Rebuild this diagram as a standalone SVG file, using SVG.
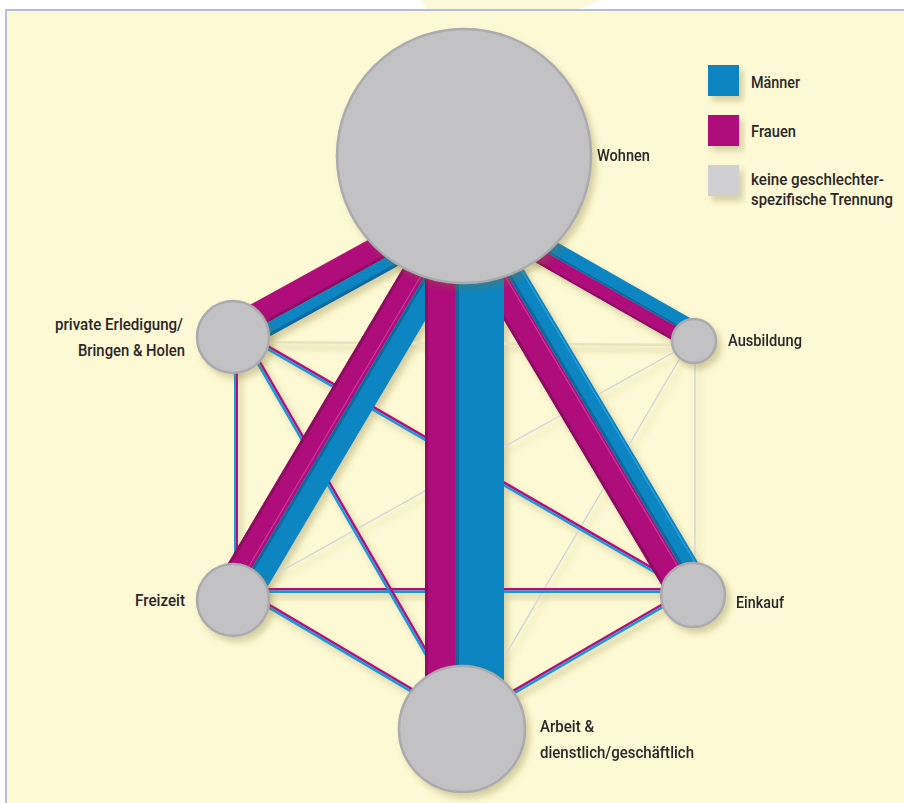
<svg xmlns="http://www.w3.org/2000/svg" width="904" height="803" viewBox="0 0 904 803">
<defs>
<style>
.t{font-family:Roboto,"Liberation Sans",sans-serif;font-size:16.5px;font-weight:500;fill:#2a2627}
.m{fill:#b00b7c}.md{fill:#8c0762}.ml{fill:#c8429e}
.b{fill:#0a85c2}.bd{fill:#09699c}.bl{fill:#3aa6d9}
.tm{fill:#b4107f}.tb{fill:#1699d6}
.g{stroke:#cfd0dc;stroke-width:1.3;fill:none}
.node{fill:#c2c2c4;stroke:#ababaf;stroke-width:2.5}
</style>
<filter id="sh" x="-10%" y="-10%" width="130%" height="130%">
<feDropShadow dx="4" dy="5" stdDeviation="3" flood-color="#7d7030" flood-opacity="0.3"/>
</filter>
</defs>
<rect width="904" height="803" fill="#fff"/>
<polygon points="421,0 600,0 577,10 427,10" fill="#fdf8da"/>
<rect x="6" y="10" width="898" height="793" fill="#fdf9d4"/>
<path d="M6,803 V10 H904" stroke="#b7bedb" stroke-width="2" fill="none"/>

<g id="connectors" filter="url(#sh)">
  <line class="g" x1="233" y1="598" x2="694" y2="341"/>
  <line class="g" x1="462" y1="729" x2="690" y2="341"/>
  <line class="g" x1="695" y1="341" x2="695" y2="595"/>
  <line x1="233" y1="342" x2="694" y2="345" stroke="#e8e2be" stroke-width="2.5"/>

  <rect class="tb" x="234" y="337" width="2" height="263"/>
  <rect class="tm" x="236" y="337" width="2" height="263"/>
  <rect class="tm" x="233" y="588" width="460" height="2.5"/>
  <rect class="tb" x="233" y="590.5" width="460" height="2.5"/>
  <g transform="translate(233,327.5) rotate(29.99)"><rect class="tm" y="-2.5" width="531" height="2.5"/><rect class="tb" y="0" width="531" height="2.5"/></g>
  <g transform="translate(244,337) rotate(60.03)"><rect class="tm" y="-2.5" width="452" height="2.5"/><rect class="tb" y="0" width="452" height="2.5"/></g>
  <g transform="translate(233,585) rotate(30.52)"><rect class="tm" y="-2.5" width="266" height="2.5"/><rect class="tb" y="0" width="266" height="2.5"/></g>
  <g transform="translate(462,722) rotate(-30.11)"><rect class="tm" y="-2.5" width="267" height="2.5"/><rect class="tb" y="0" width="267" height="2.5"/></g>

  <g transform="translate(233,337) rotate(-28.8)">
    <rect class="m" y="-20" width="264" height="24"/>
    <rect class="md" y="1" width="264" height="3"/>
    <rect class="b" y="4" width="264" height="13"/>
    <rect class="bd" y="14" width="264" height="3"/>
  </g>
  <g transform="translate(233,600) rotate(-59.36)">
    <rect class="m" y="-23" width="454" height="23"/>
    <rect class="md" y="-23" width="454" height="3"/>
    <rect class="ml" y="-4" width="454" height="1"/>
    <rect class="b" y="0" width="454" height="23"/>
    <rect class="bd" y="0" width="454" height="3"/>
  </g>
  <g transform="translate(693,595) rotate(-120.74)">
    <rect class="m" y="-22" width="448" height="26"/>
    <rect class="md" y="-22" width="448" height="3"/>
    <rect class="ml" y="1" width="448" height="1"/>
    <rect class="b" y="4" width="448" height="17"/>
    <rect class="bd" y="4" width="448" height="3"/>
    <rect class="bl" y="18" width="448" height="1"/>
  </g>
  <g transform="translate(694,341) rotate(-150.33)">
    <rect class="m" y="-10" width="265" height="14"/>
    <rect class="md" y="-10" width="265" height="2"/>
    <rect class="b" y="4" width="265" height="14"/>
    <rect class="bd" y="4" width="265" height="2"/>
  </g>
  <rect class="m" x="425" y="210" width="30" height="500"/>
  <rect class="md" x="425" y="210" width="3" height="500"/>
  <rect class="b" x="455" y="210" width="49" height="500"/>
  <rect class="bd" x="455" y="210" width="4" height="500"/>
</g>

<g filter="url(#sh)">
  <g id="wohnen"><circle class="node" cx="464" cy="156" r="127"/></g>
  <g id="private"><circle class="node" cx="233" cy="337" r="36"/></g>
  <g id="ausbildung"><circle class="node" cx="694" cy="341" r="22"/></g>
  <g id="freizeit"><circle class="node" cx="233" cy="600" r="36"/></g>
  <g id="einkauf"><circle class="node" cx="693" cy="595" r="32"/></g>
  <g id="arbeit"><circle class="node" cx="462" cy="729" r="63"/></g>
</g>

<g id="labels">
  <text class="t" transform="translate(597,161) scale(0.82,1)" textLength="64.6" lengthAdjust="spacingAndGlyphs">Wohnen</text>
  <text class="t" transform="translate(183,330) scale(0.82,1)" text-anchor="end" textLength="156.1" lengthAdjust="spacingAndGlyphs">private Erledigung/</text>
  <text class="t" transform="translate(185,356) scale(0.82,1)" text-anchor="end" textLength="130.5" lengthAdjust="spacingAndGlyphs">Bringen &amp; Holen</text>
  <text class="t" transform="translate(728,346) scale(0.82,1)" textLength="90.2" lengthAdjust="spacingAndGlyphs">Ausbildung</text>
  <text class="t" transform="translate(185,606) scale(0.82,1)" text-anchor="end" textLength="61" lengthAdjust="spacingAndGlyphs">Freizeit</text>
  <text class="t" transform="translate(736,608) scale(0.82,1)" textLength="58.5" lengthAdjust="spacingAndGlyphs">Einkauf</text>
  <text class="t" transform="translate(540,732) scale(0.82,1)" textLength="65.9" lengthAdjust="spacingAndGlyphs">Arbeit &amp;</text>
  <text class="t" transform="translate(540,758) scale(0.82,1)" textLength="187.8" lengthAdjust="spacingAndGlyphs">dienstlich/geschäftlich</text>
</g>

<g id="legend">
  <g filter="url(#sh)">
    <rect x="708" y="65" width="31" height="31" fill="#0a85c2"/>
    <rect x="708" y="115" width="31" height="31" fill="#b00b7c"/>
    <rect x="708" y="165" width="31" height="31" fill="#d0d0d3"/>
  </g>
  <text class="t" transform="translate(751,88) scale(0.82,1)" textLength="59.8" lengthAdjust="spacingAndGlyphs">Männer</text>
  <text class="t" transform="translate(751,137) scale(0.82,1)" textLength="54.9" lengthAdjust="spacingAndGlyphs">Frauen</text>
  <text class="t" transform="translate(751,185) scale(0.82,1)" textLength="162.2" lengthAdjust="spacingAndGlyphs">keine geschlechter-</text>
  <text class="t" transform="translate(751,205) scale(0.82,1)" textLength="173.2" lengthAdjust="spacingAndGlyphs">spezifische Trennung</text>
</g>
</svg>
